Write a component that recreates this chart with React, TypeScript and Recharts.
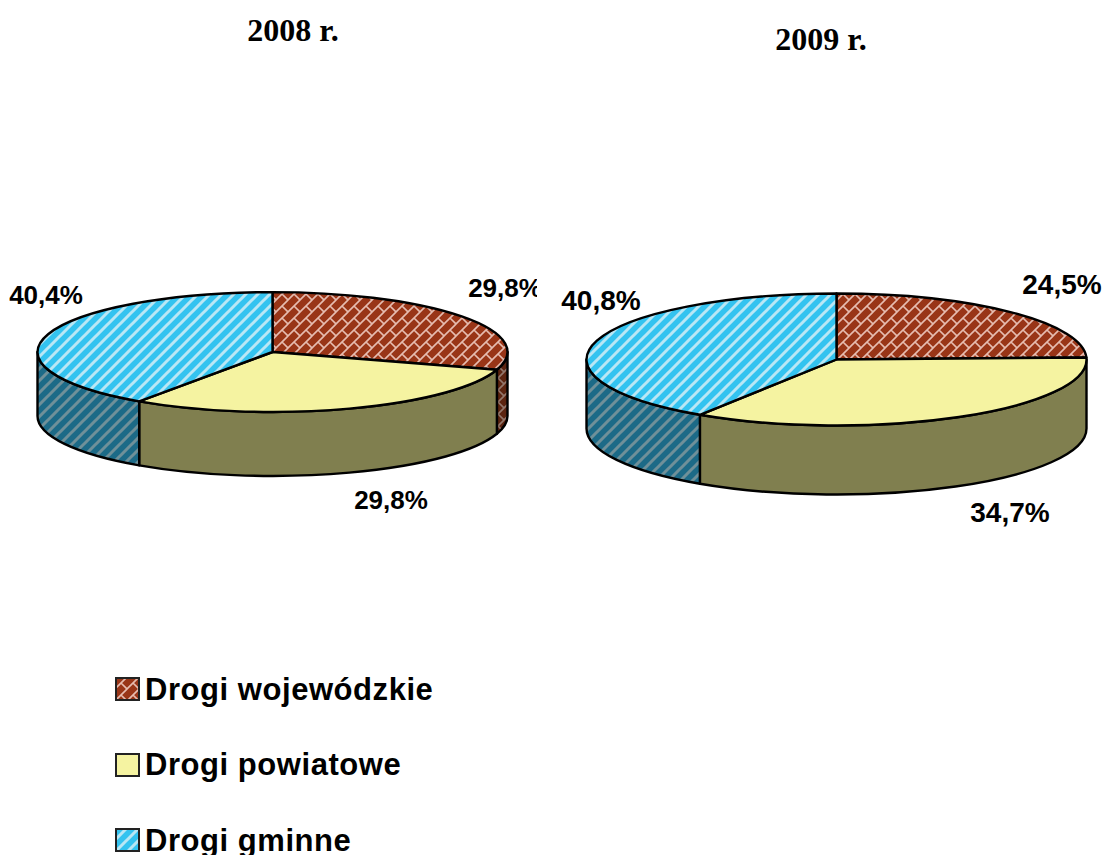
import { PieChart, Pie, Cell, Legend } from 'recharts'

const CATEGORIES = ['Drogi wojewódzkie', 'Drogi powiatowe', 'Drogi gminne']
const VALUES_2008 = [29.8, 29.8, 40.4]
const VALUES_2009 = [24.5, 34.7, 40.8]

const TOP_FILLS = ['url(#brick)', '#f5f3a1', 'url(#stripes)']
const WALL_FILLS = ['url(#brickDark)', '#807f4f', 'url(#stripesDark)']

const toRows = (values: number[]) =>
  CATEGORIES.map((name, i) => ({ name, value: values[i] }))

const rad = (deg: number) => (deg * Math.PI) / 180

// Flattened sector with a side wall, so the disc reads as a tilted cylinder
function discSector(ratio: number, depth: number) {
  return function DiscSector(props: any) {
    const { cx, cy, outerRadius: rx, startAngle, endAngle, fill, index } = props
    const ry = rx * ratio
    const px = (a: number) => cx + rx * Math.cos(rad(a))
    const py = (a: number) => cy - ry * Math.sin(rad(a))
    const large = Math.abs(endAngle - startAngle) > 180 ? 1 : 0
    const top = `M${cx},${cy} L${px(startAngle)},${py(startAngle)} A${rx},${ry} 0 ${large} 1 ${px(endAngle)},${py(endAngle)} Z`

    // angles run clockwise from 90 to -270; the front of the disc is 0 to -180
    const a1 = Math.min(startAngle, 0)
    const a2 = Math.max(endAngle, -180)
    let wall = null
    if (a1 > a2) {
      const d = `M${px(a1)},${py(a1)} A${rx},${ry} 0 0 1 ${px(a2)},${py(a2)} L${px(a2)},${py(a2) + depth} A${rx},${ry} 0 0 0 ${px(a1)},${py(a1) + depth} Z`
      wall = <path d={d} fill={WALL_FILLS[index]} stroke="#000" strokeWidth={2.4} strokeLinejoin="round" />
    }
    return (
      <g>
        {wall}
        <path d={top} fill={fill} stroke="#000" strokeWidth={2.4} strokeLinejoin="round" />
      </g>
    )
  }
}

const percentLabel = (spots: number[][], size: number) =>
  function PercentLabel(props: any) {
    const [x, y] = spots[props.index]
    return (
      <text
        x={x}
        y={y}
        textAnchor="middle"
        dominantBaseline="central"
        fontFamily="Liberation Sans"
        fontWeight="bold"
        fontSize={size}
        fill="#000"
      >
        {props.value.toFixed(1).replace('.', ',')}%
      </text>
    )
  }

function Patterns() {
  const brick = (id: string, bg: string, line: string) => (
    <pattern id={id} width={12} height={12} patternUnits="userSpaceOnUse">
      <rect width={12} height={12} fill={bg} />
      <path d="M-2,14 L14,-2 M-2,2 L2,-2 M10,14 L14,10 M6,6 L12,12" stroke={line} strokeWidth={1.6} fill="none" />
    </pattern>
  )
  const stripes = (id: string, bg: string, line: string) => (
    <pattern id={id} width={12} height={12} patternUnits="userSpaceOnUse">
      <rect width={12} height={12} fill={bg} />
      <path d="M-3,15 L15,-3 M-3,3 L3,-3 M9,15 L15,9" stroke={line} strokeWidth={3} fill="none" />
    </pattern>
  )
  return (
    <svg width={0} height={0} style={{ position: 'absolute' }}>
      <defs>
        {brick('brick', '#993517', '#e6bcb0')}
        {brick('brickDark', '#5c2410', '#93776c')}
        {stripes('stripes', '#33c3f0', '#b9e7f5')}
        {stripes('stripesDark', '#1c6a87', '#6f9099')}
      </defs>
    </svg>
  )
}

function LegendList({ payload }: any) {
  return (
    <div>
      {(payload || []).map((item: any, i: number) => (
        <div key={item.value} style={{ display: 'flex', alignItems: 'center', height: 75.5 }}>
          <svg width={26} height={25} style={{ marginRight: 4 }}>
            <rect x={1} y={1} width={23} height={22} fill={TOP_FILLS[i]} stroke="#222" strokeWidth={2} />
          </svg>
          <span
            style={{
              fontFamily: 'Liberation Sans',
              fontWeight: 'bold',
              fontSize: 31,
              letterSpacing: 0.55,
              color: '#000',
              whiteSpace: 'nowrap',
            }}
          >
            {item.value}
          </span>
        </div>
      ))}
    </div>
  )
}

const renderCells = () =>
  CATEGORIES.map((name, i) => <Cell key={name} fill={TOP_FILLS[i]} />)

export default function App() {
  return (
    <div style={{ position: 'absolute', left: 0, top: 0, width: 1104, height: 855, overflow: 'hidden', background: '#fff' }}>
      <Patterns />
      <div style={{ position: 'absolute', left: 0, top: 0, width: 537, height: 855, overflow: 'hidden' }}>
        <PieChart width={537} height={855} margin={{ top: 0, right: 0, bottom: 0, left: 0 }}>
          <text x={293} y={41} textAnchor="middle" fontFamily="Liberation Serif" fontWeight="bold" fontSize={32} fill="#000">
            2008 r.
          </text>
          <Pie
            data={toRows(VALUES_2008)}
            dataKey="value"
            nameKey="name"
            cx={272.5}
            cy={352}
            outerRadius={235}
            startAngle={90}
            endAngle={-270}
            stroke="none"
            shape={discSector(0.255, 64)}
            label={percentLabel([[505, 288], [391, 500], [46, 295]], 26)}
            labelLine={false}
            isAnimationActive={false}
          >
            {renderCells()}
          </Pie>
          <Legend
            content={<LegendList />}
            layout="vertical"
            itemSorter={null}
            wrapperStyle={{ position: 'absolute', left: 115, top: 652, width: 400, bottom: 'auto' }}
          />
        </PieChart>
      </div>
      <div style={{ position: 'absolute', left: 537, top: 0, width: 567, height: 855, overflow: 'hidden' }}>
        <PieChart width={567} height={855} margin={{ top: 0, right: 0, bottom: 0, left: 0 }}>
          <text x={284} y={50} textAnchor="middle" fontFamily="Liberation Serif" fontWeight="bold" fontSize={32} fill="#000">
            2009 r.
          </text>
          <Pie
            data={toRows(VALUES_2009)}
            dataKey="value"
            nameKey="name"
            cx={299.5}
            cy={359.5}
            outerRadius={250}
            startAngle={90}
            endAngle={-270}
            stroke="none"
            shape={discSector(0.264, 69)}
            label={percentLabel([[525, 284], [473, 512], [64, 300]], 28)}
            labelLine={false}
            isAnimationActive={false}
          >
            {renderCells()}
          </Pie>
        </PieChart>
      </div>
    </div>
  )
}
